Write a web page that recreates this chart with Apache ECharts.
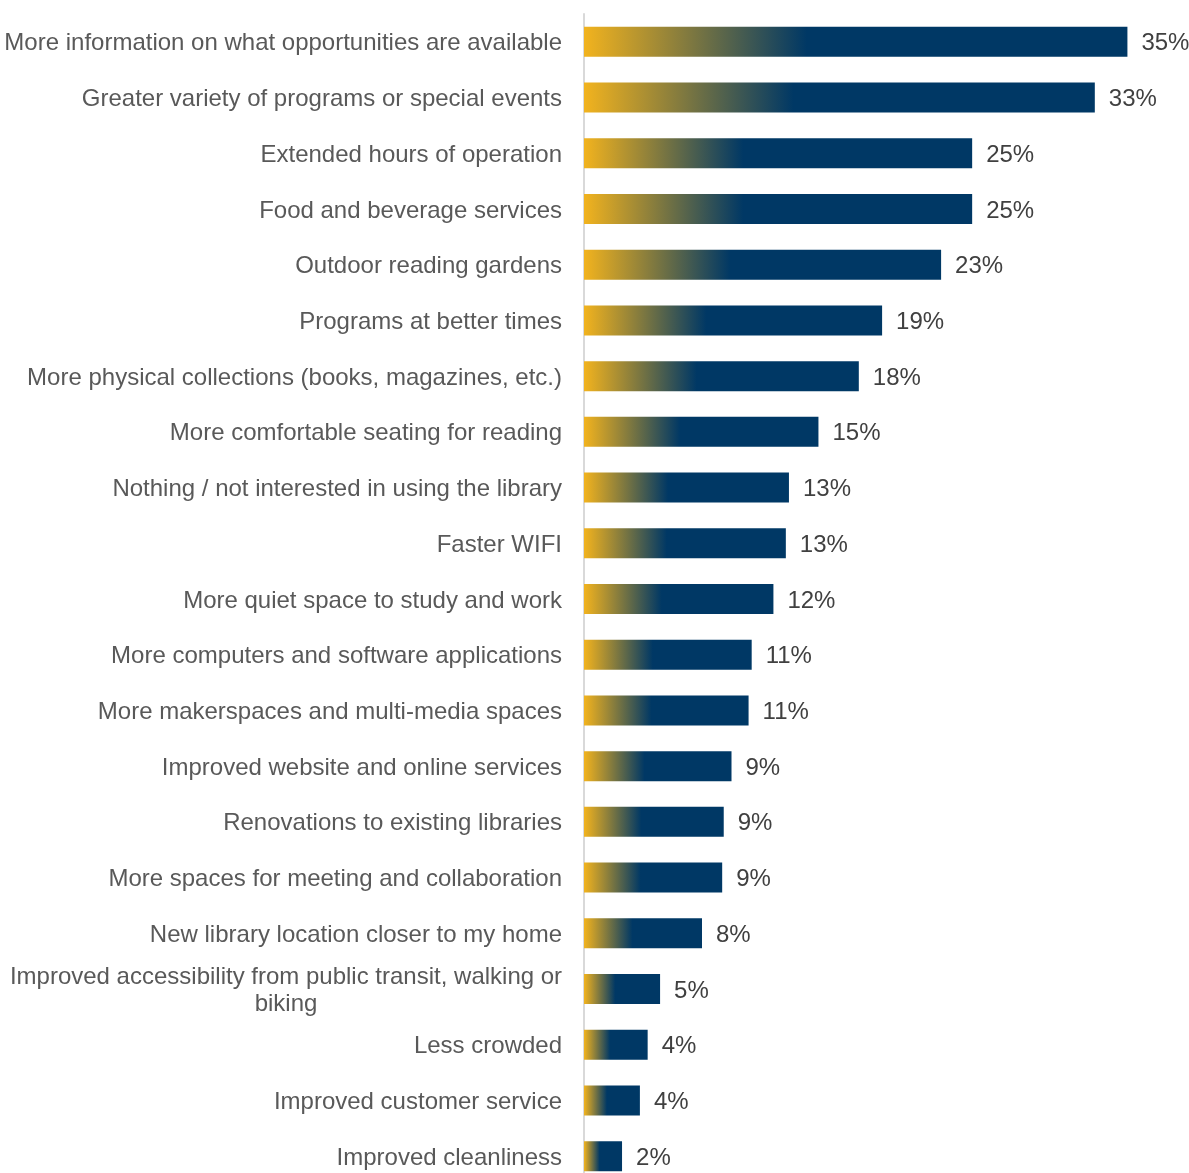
<!DOCTYPE html>
<html><head><meta charset="utf-8">
<script src="https://cdn.jsdelivr.net/npm/echarts@6/dist/echarts.min.js"></script>
<style>html,body{margin:0;padding:0;background:#fff}#c{width:1189px;height:1173px}</style>
</head><body><div id="c"></div>
<script>
const categories = [
  "More information on what opportunities are available",
  "Greater variety of programs or special events",
  "Extended hours of operation",
  "Food and beverage services",
  "Outdoor reading gardens",
  "Programs at better times",
  "More physical collections (books, magazines, etc.)",
  "More comfortable seating for reading",
  "Nothing / not interested in using the library",
  "Faster WIFI",
  "More quiet space to study and work",
  "More computers and software applications",
  "More makerspaces and multi-media spaces",
  "Improved website and online services",
  "Renovations to existing libraries",
  "More spaces for meeting and collaboration",
  "New library location closer to my home",
  "Improved accessibility from public transit, walking or\nbiking",
  "Less crowded",
  "Improved customer service",
  "Improved cleanliness"
];
const values = [35.0, 32.9, 25.0, 25.0, 23.0, 19.2, 17.7, 15.1, 13.2, 13.0, 12.2, 10.8, 10.6, 9.5, 9.0, 8.9, 7.6, 4.9, 4.1, 3.6, 2.45];
const valueLabels = ["35%","33%","25%","25%","23%","19%","18%","15%","13%","13%","12%","11%","11%","9%","9%","9%","8%","5%","4%","4%","2%"];

const FONT = 'Liberation Sans, Arial, sans-serif';
const chart = echarts.init(document.getElementById('c'));
chart.setOption({
  animation: false,
  grid: {left: 584, top: 14, width: 590, height: 1170, containLabel: false, outerBoundsMode: 'none'},
  xAxis: {type: 'value', min: 0, max: 38, show: false},
  yAxis: {
    type: 'category', inverse: true, data: categories,
    axisLine: {show: true, lineStyle: {color: '#d9d9d9', width: 2}},
    axisTick: {show: false},
    axisLabel: {
      margin: 22, color: '#595959', fontSize: 24, fontFamily: FONT, padding: [4, 0, 0, 0],
      formatter: function (v) {
        if (v.indexOf('\n') >= 0) {
          return v.split('\n').map(s => '{w|' + s + '}').join('\n');
        }
        return v;
      },
      rich: {w: {width: 552, align: 'center', color: '#595959', fontSize: 24, fontFamily: FONT, lineHeight: 27}}
    }
  },
  series: [{
    type: 'bar', data: values, barWidth: 30,
    itemStyle: {
      color: new echarts.graphic.LinearGradient(0, 0, 1, 0, [
        {offset: 0, color: '#F2B31E'},
        {offset: 0.41, color: '#003865'},
        {offset: 1, color: '#003865'}
      ])
    },
    label: {
      show: true, position: 'right', distance: 14, color: '#404040', fontSize: 24,
      fontFamily: FONT, offset: [0, 2],
      formatter: p => valueLabels[p.dataIndex]
    }
  }]
});
</script></body></html>
